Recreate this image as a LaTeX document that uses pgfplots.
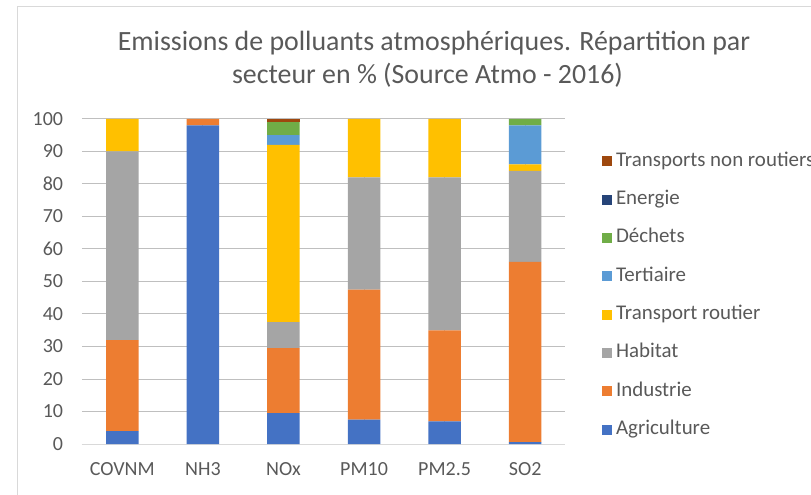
\documentclass[border=0pt]{standalone}
\usepackage{pgfplots}
\pgfplotsset{compat=1.18}
\usepackage{fontspec}
\setmainfont{Carlito}
\definecolor{cAgr}{HTML}{4472C4}
\definecolor{cInd}{HTML}{ED7D31}
\definecolor{cHab}{HTML}{A5A5A5}
\definecolor{cTR}{HTML}{FFC000}
\definecolor{cTer}{HTML}{5B9BD5}
\definecolor{cDec}{HTML}{70AD47}
\definecolor{cEne}{HTML}{264478}
\definecolor{cTNR}{HTML}{9E480E}
\definecolor{txt}{HTML}{595959}
\definecolor{grid}{HTML}{D9D9D9}
\begin{document}
\begin{tikzpicture}
\path[use as bounding box] (0,0) rectangle (608.25pt,-371.25pt);
\draw[grid, line width=0.75pt] (12.75pt,-371.25pt) -- (12.75pt,-5.25pt) -- (608.25pt,-5.25pt);
\node[txt, font=\fontsize{20.9}{24}\selectfont] at (325.5pt,-32.25pt) {Emissions de polluants atmosphériques. Répartition par};
\node[txt, font=\fontsize{20.9}{24}\selectfont] at (320.6pt,-56.25pt) {secteur en \% (Source Atmo - 2016)};
\begin{axis}[
  at={(61.5pt,-333pt)}, anchor=south west,
  width=362.625pt, height=243.75pt, scale only axis,
  ybar stacked, bar width=24.4pt,
  xmin=-0.5, xmax=5.5, ymin=0, ymax=100,
  xtick={0,1,2,3,4,5},
  xticklabels={COVNM,NH3,NOx,PM10,PM2.5,SO2},
  ytick={0,10,...,100},
  ymajorgrids, grid style={grid, line width=0.75pt},
  axis x line*=bottom, axis y line*=left,
  x axis line style={grid, line width=0.75pt, -},
  y axis line style={draw=none},
  major tick length=0pt,
  tick style={draw=none},
  /pgf/number format/assume math mode=true,
  ticklabel style={txt, font=\fontsize{15}{18}\selectfont},
  yticklabel style={inner sep=0pt, xshift=-14pt},
  xticklabel style={inner sep=0pt, yshift=-14pt},
  reverse legend,
  legend image code/.code={\fill[#1] (0pt,-3.75pt) rectangle (7.5pt,3.75pt);},
  legend style={at={(1.075,0.457)}, anchor=west, draw=none, fill=none,
    inner sep=0pt, row sep=10.25pt, column sep=0pt,
    font=\fontsize{15.7}{18}\selectfont, text=txt,
    nodes={text height=10.5pt, text depth=3pt, inner ysep=2.5pt, inner xsep=3pt}},
  legend cell align=left,
  every axis plot/.append style={draw=none},
]
\addplot[fill=cAgr] coordinates {(0,4) (1,98) (2,9.5) (3,7.5) (4,7) (5,0.6)};
\addlegendentry{Agriculture}
\addplot[fill=cInd] coordinates {(0,28) (1,2) (2,20) (3,40) (4,28) (5,55.4)};
\addlegendentry{Industrie}
\addplot[fill=cHab] coordinates {(0,58) (1,0) (2,8) (3,34.5) (4,47) (5,28)};
\addlegendentry{Habitat}
\addplot[fill=cTR] coordinates {(0,10) (1,0) (2,54.5) (3,18) (4,18) (5,2)};
\addlegendentry{Transport routier}
\addplot[fill=cTer] coordinates {(0,0) (1,0) (2,3) (3,0) (4,0) (5,12)};
\addlegendentry{Tertiaire}
\addplot[fill=cDec] coordinates {(0,0) (1,0) (2,4) (3,0) (4,0) (5,2)};
\addlegendentry{Déchets}
\addplot[fill=cEne] coordinates {(0,0) (1,0) (2,0) (3,0) (4,0) (5,0)};
\addlegendentry{Energie}
\addplot[fill=cTNR] coordinates {(0,0) (1,0) (2,1) (3,0) (4,0) (5,0)};
\addlegendentry{Transports non routiers}
\end{axis}
\end{tikzpicture}
\end{document}
